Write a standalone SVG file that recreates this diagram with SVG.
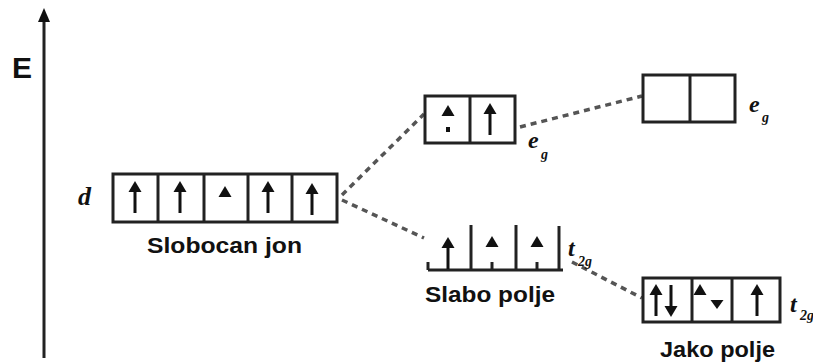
<svg xmlns="http://www.w3.org/2000/svg" width="813" height="362" viewBox="0 0 813 362">
<style>
.box{fill:none;stroke:#222;stroke-width:3}
.ln{stroke:#222;stroke-width:3;fill:none}
.dash{stroke:#555;stroke-width:3.5;stroke-dasharray:6 5;fill:none}
.lbl{font-family:"Liberation Sans",Arial,sans-serif;font-weight:bold;font-size:22px;fill:#111}
.it{font-family:"Liberation Serif","Times New Roman",serif;font-style:italic;font-weight:bold;fill:#111}
.ar{fill:#111}
</style>
<defs>
<g id="up"><polygon points="-6.5,0 6.5,0 0,-11" class="ar"/><rect x="-1.5" y="-1" width="3" height="22" class="ar"/></g>
<g id="uph"><polygon points="-6.5,0 6.5,0 0,-11" class="ar"/></g>
<g id="down"><polygon points="-6.5,0 6.5,0 0,11" class="ar"/><rect x="-1.5" y="-21" width="3" height="22" class="ar"/></g>
</defs>
<g id="axis">
<line x1="44" y1="18" x2="44" y2="358" class="ln"/>
<polygon points="38,22 50,22 44,8" class="ar"/>
<text x="12" y="78" style="font-family:'Liberation Sans',Arial,sans-serif;font-weight:bold;font-size:30px;fill:#111">E</text>
</g>
<g id="connectors">
<line x1="342" y1="195" x2="424" y2="114" class="dash"/>
<line x1="342" y1="200" x2="424" y2="238" class="dash"/>
<line x1="520" y1="127" x2="642" y2="96" class="dash"/>
<line x1="572" y1="262" x2="642" y2="298" class="dash"/>
</g>
<g id="free-ion">
<text x="78" y="205" class="it" font-size="26">d</text>
<rect x="113" y="174" width="224" height="48" class="box"/>
<line x1="158" y1="174" x2="158" y2="222" class="ln"/>
<line x1="204" y1="174" x2="204" y2="222" class="ln"/>
<line x1="248" y1="174" x2="248" y2="222" class="ln"/>
<line x1="292" y1="174" x2="292" y2="222" class="ln"/>
<use href="#up" x="135" y="192"/>
<use href="#up" x="180" y="192"/>
<use href="#uph" x="225" y="197"/>
<use href="#up" x="268" y="192"/>
<use href="#up" x="312" y="194"/>
<text x="147" y="253" class="lbl" textLength="155" lengthAdjust="spacingAndGlyphs">Slobocan jon</text>
</g>
<g id="weak-eg">
<rect x="425" y="96" width="90" height="47" class="box"/>
<line x1="470" y1="96" x2="470" y2="143" class="ln"/>
<use href="#uph" x="448" y="116"/>
<rect x="446" y="127" width="4" height="5" class="ar"/>
<use href="#up" x="490" y="114"/>
<text x="528" y="148" class="it" font-size="24">e</text>
<text x="541" y="159" class="it" font-size="14">g</text>
</g>
<g id="weak-t2g">
<line x1="428" y1="270" x2="563" y2="270" class="ln"/>
<line x1="428" y1="262" x2="428" y2="270" class="ln"/>
<line x1="471" y1="225" x2="471" y2="270" class="ln"/>
<line x1="516" y1="225" x2="516" y2="270" class="ln"/>
<line x1="559" y1="226" x2="559" y2="270" class="ln"/>
<use href="#up" x="448" y="248"/>
<use href="#uph" x="492" y="247"/>
<line x1="492" y1="262" x2="492" y2="270" class="ln"/>
<use href="#uph" x="537" y="247"/>
<line x1="537" y1="262" x2="537" y2="270" class="ln"/>
<text x="568" y="256" class="it" font-size="24">t</text>
<text x="578" y="266" class="it" font-size="14">2g</text>
<text x="425" y="302" class="lbl" textLength="130" lengthAdjust="spacingAndGlyphs">Slabo polje</text>
</g>
<g id="strong-eg">
<rect x="643" y="75" width="92" height="47" class="box"/>
<line x1="690" y1="75" x2="690" y2="122" class="ln"/>
<text x="749" y="112" class="it" font-size="24">e</text>
<text x="762" y="122" class="it" font-size="14">g</text>
</g>
<g id="strong-t2g">
<rect x="643" y="278" width="137" height="44" class="box"/>
<line x1="692" y1="278" x2="692" y2="322" class="ln"/>
<line x1="732" y1="278" x2="732" y2="322" class="ln"/>
<use href="#up" x="656" y="295"/>
<use href="#down" x="671" y="306"/>
<use href="#uph" x="700" y="295"/>
<polygon points="710.5,300 723.5,300 717,309" class="ar"/>
<use href="#up" x="757" y="295"/>
<text x="790" y="312" class="it" font-size="24">t</text>
<text x="800" y="320" class="it" font-size="14">2g</text>
<text x="660" y="357" class="lbl" textLength="115" lengthAdjust="spacingAndGlyphs">Jako polje</text>
</g>
</svg>
